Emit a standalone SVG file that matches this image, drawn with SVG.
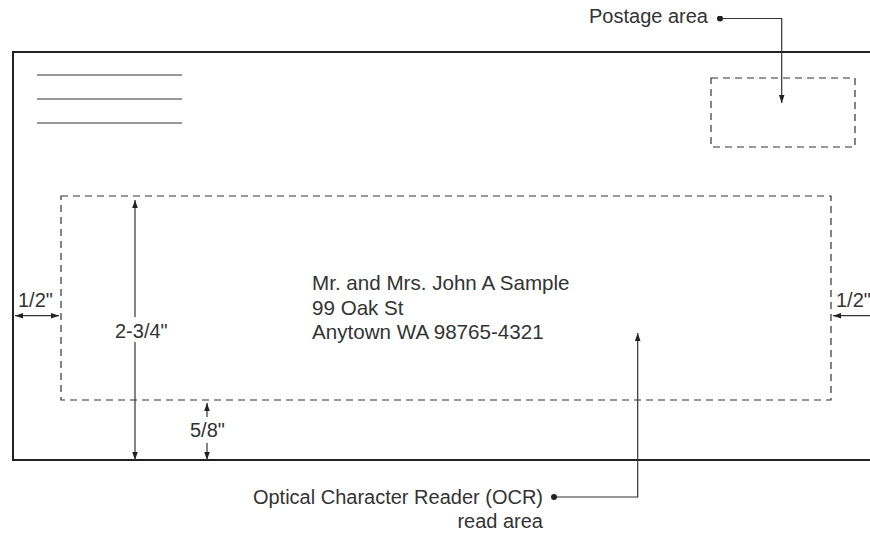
<svg xmlns="http://www.w3.org/2000/svg" width="870" height="533" viewBox="0 0 870 533">
<defs>
<marker id="ah" viewBox="0 0 10 10" refX="10" refY="5" markerWidth="8" markerHeight="8" markerUnits="userSpaceOnUse" orient="auto-start-reverse">
<path d="M0,1.5 L10,5 L0,8.5 Z" fill="#222"/>
</marker>
<marker id="dot" viewBox="0 0 10 10" refX="5" refY="5" markerWidth="6" markerHeight="6" markerUnits="userSpaceOnUse">
<circle cx="5" cy="5" r="5" fill="#222"/>
</marker>
</defs>
<style>
.t{font-family:"Liberation Sans",Arial,sans-serif;font-size:20px;fill:#333}
.addr{font-size:20.6px}
.ln{stroke:#333;stroke-width:1.2;fill:none}
.dash{stroke:#333;stroke-width:1.2;fill:none;stroke-dasharray:7 5}
.env{stroke:#222;stroke-width:2;fill:none}
.rule{stroke:#777;stroke-width:1.5}
</style>
<rect width="870" height="533" fill="#fff"/>
<g id="envelope">
<path class="env" d="M870,52 H13 V460 H870"/>
<line class="rule" x1="37" y1="75" x2="182" y2="75"/>
<line class="rule" x1="37" y1="99" x2="182" y2="99"/>
<line class="rule" x1="37" y1="123" x2="182" y2="123"/>
</g>
<g id="postage-box">
<rect class="dash" x="711" y="78" width="144" height="69"/>
</g>
<g id="ocr-box">
<rect class="dash" x="61" y="196" width="770" height="204"/>
</g>
<g id="address">
<text class="t addr" x="312" y="290">Mr. and Mrs. John A Sample</text>
<text class="t addr" x="312" y="314.5">99 Oak St</text>
<text class="t addr" x="312" y="339">Anytown WA 98765-4321</text>
</g>
<g id="postage-label">
<text class="t" x="708" y="23" text-anchor="end">Postage area</text>
</g>
<g id="ocr-label">
<text class="t" x="543" y="504" text-anchor="end">Optical Character Reader (OCR)</text>
<text class="t" x="543" y="528" text-anchor="end">read area</text>
</g>
<g id="dimensions">
<text class="t" x="18" y="307">1/2"</text>
<text class="t" x="836" y="307">1/2"</text>
<text class="t" x="115" y="337.5">2-3/4"</text>
<text class="t" x="190" y="437">5/8"</text>
</g>
<g id="connectors">
<polyline class="ln" points="720,18.5 781.7,18.5 781.7,103" marker-start="url(#dot)" marker-end="url(#ah)"/>
<polyline class="ln" points="554,497 637.7,497 637.7,333" marker-start="url(#dot)" marker-end="url(#ah)"/>
<line class="ln" x1="15" y1="315.7" x2="59" y2="315.7" marker-start="url(#ah)" marker-end="url(#ah)"/>
<line class="ln" x1="870" y1="315.7" x2="833" y2="315.7" marker-end="url(#ah)"/>
<line class="ln" x1="135" y1="317" x2="135" y2="200" marker-end="url(#ah)"/>
<line class="ln" x1="135" y1="342" x2="135" y2="460" marker-end="url(#ah)"/>
<line class="ln" x1="207" y1="417" x2="207" y2="403" marker-end="url(#ah)"/>
<line class="ln" x1="207" y1="443" x2="207" y2="460" marker-end="url(#ah)"/>
</g>
</svg>
